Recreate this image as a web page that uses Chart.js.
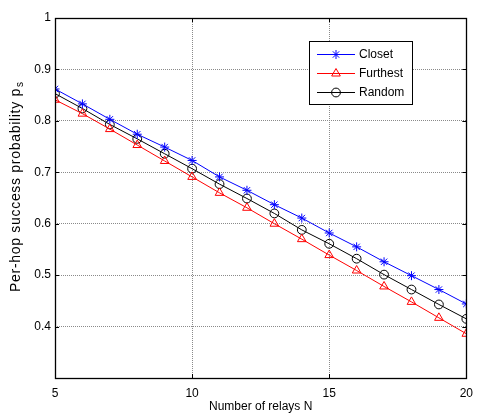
<!DOCTYPE html>
<html>
<head>
<meta charset="utf-8">
<script src="https://cdn.jsdelivr.net/npm/chart.js@4"></script>
<style>
  html, body { margin: 0; padding: 0; background: #fff; }
  #wrap { width: 481px; height: 418px; }
</style>
</head>
<body>
<div id="wrap"><canvas id="successChart"></canvas></div>
<script>
// Number of relays N
const relays = [5, 6, 7, 8, 9, 10, 11, 12, 13, 14, 15, 16, 17, 18, 19, 20];
// Per-hop success probability
const closest = [0.862, 0.833, 0.803, 0.774, 0.749, 0.723, 0.691, 0.665, 0.637, 0.611, 0.582, 0.555, 0.526, 0.499, 0.472, 0.444];
const furthest = [0.841, 0.814, 0.784, 0.753, 0.722, 0.691, 0.660, 0.631, 0.600, 0.570, 0.539, 0.509, 0.478, 0.448, 0.417, 0.386];
const random = [0.853, 0.824, 0.793, 0.765, 0.736, 0.707, 0.677, 0.649, 0.620, 0.588, 0.561, 0.532, 0.501, 0.472, 0.443, 0.415];
const yTicks = [0.3, 0.4, 0.5, 0.6, 0.7, 0.8, 0.9, 1];
const xTicks = [5, 10, 15, 20];

const FONT = 'Arial, "Liberation Sans", sans-serif';
const toPoints = (ys) => relays.map((n, i) => ({ x: n, y: ys[i] }));

// MATLAB-style box, inward ticks, y label with subscript and legend
const matlabFrame = {
    id: 'matlabFrame',
    afterDraw(chart) {
        const { ctx, chartArea: a, scales } = chart;
        ctx.save();
        ctx.strokeStyle = '#000';
        ctx.lineWidth = 1;
        ctx.beginPath();
        yTicks.forEach((v) => {
            const y = Math.round(scales.y.getPixelForValue(v)) + 0.5;
            ctx.moveTo(a.left, y); ctx.lineTo(a.left + 4, y);
            ctx.moveTo(a.right, y); ctx.lineTo(a.right - 4, y);
        });
        xTicks.forEach((v) => {
            const x = Math.round(scales.x.getPixelForValue(v)) + 0.5;
            ctx.moveTo(x, a.bottom); ctx.lineTo(x, a.bottom - 4);
            ctx.moveTo(x, a.top); ctx.lineTo(x, a.top + 4);
        });
        ctx.stroke();
        ctx.lineWidth = 1.3;
        ctx.strokeRect(Math.round(a.left) + 0.5, Math.round(a.top) + 0.5,
            Math.round(a.right - a.left), Math.round(a.bottom - a.top));

        // y axis title, p with subscript s
        ctx.save();
        ctx.translate(20, 292);
        ctx.rotate(-Math.PI / 2);
        ctx.fillStyle = '#000';
        ctx.textAlign = 'left';
        ctx.textBaseline = 'alphabetic';
        ctx.font = '14px ' + FONT;
        ctx.letterSpacing = '0.7px';
        const main = 'Per-hop success probability p';
        ctx.fillText(main, 0, 0);
        const w = ctx.measureText(main).width;
        ctx.font = '10px ' + FONT;
        ctx.fillText('s', w + 1, 3);
        ctx.restore();

        // legend box
        const bx = 309, by = 41, bw = 103, bh = 63;
        ctx.fillStyle = '#fff';
        ctx.fillRect(bx, by, bw, bh);
        ctx.lineWidth = 1;
        ctx.strokeStyle = '#000';
        ctx.strokeRect(bx + 0.5, by + 0.5, bw, bh);
        ctx.font = '12px ' + FONT;
        ctx.textBaseline = 'middle';
        const rows = [54, 73, 92];
        chart.data.datasets.forEach((ds, i) => {
            const y = rows[i] + 0.5;
            ctx.strokeStyle = ds.borderColor;
            ctx.lineWidth = 1;
            ctx.beginPath();
            ctx.moveTo(317, y); ctx.lineTo(355, y);
            ctx.stroke();
            ctx.fillStyle = 'rgba(0,0,0,0)';
            Chart.helpers.drawPoint(ctx, {
                pointStyle: ds.pointStyle, radius: ds.pointRadius, rotation: 0,
                borderWidth: 1
            }, 336, y);
            ctx.fillStyle = '#000';
            ctx.fillText(ds.label, 359, y);
        });
        ctx.restore();
    }
};

new Chart(document.getElementById('successChart').getContext('2d'), {
    type: 'line',
    data: {
        datasets: [
            { label: 'Closet', data: toPoints(closest), borderColor: '#0000ff', backgroundColor: 'transparent',
              pointStyle: 'star', pointRadius: 4.5, pointBorderColor: '#0000ff', borderWidth: 1, pointBorderWidth: 1 },
            { label: 'Furthest', data: toPoints(furthest), borderColor: '#ff0000', backgroundColor: 'transparent',
              pointStyle: 'triangle', pointRadius: 5, pointBorderColor: '#ff0000', borderWidth: 1, pointBorderWidth: 1 },
            { label: 'Random', data: toPoints(random), borderColor: '#000000', backgroundColor: 'transparent',
              pointStyle: 'circle', pointRadius: 4.4, pointBorderColor: '#000000', borderWidth: 1, pointBorderWidth: 1 },
        ],
    },
    options: {
        responsive: true,
        maintainAspectRatio: false,
        animation: false,
        layout: { padding: { left: 0, right: 8, top: 18, bottom: 0 } },
        plugins: { legend: { display: false }, tooltip: { enabled: false } },
        elements: { line: { tension: 0 } },
        scales: {
            x: {
                type: 'linear', min: 5, max: 20,
                afterFit: (s) => { s.height = 40; },
                afterBuildTicks: (s) => { s.ticks = xTicks.map((v) => ({ value: v })); },
                ticks: { color: '#000', font: { family: FONT, size: 12 }, padding: 8, maxRotation: 0 },
                grid: {
                    drawTicks: false,
                    color: (c) => (c.tick.value === 5 || c.tick.value === 20 ? 'transparent' : '#8a8a8a'),
                },
                border: { display: false, dash: [1, 1] },
                title: { display: true, text: 'Number of relays N', color: '#000',
                         font: { family: FONT, size: 12 }, padding: { top: 4 } },
            },
            y: {
                min: 0.3, max: 1,
                afterFit: (s) => { s.width = 55; },
                afterBuildTicks: (s) => { s.ticks = yTicks.map((v) => ({ value: v })); },
                ticks: {
                    color: '#000', font: { family: FONT, size: 12 }, padding: 4,
                    callback: (v) => (Math.abs(v - 0.3) < 1e-6 ? '' : String(Math.round(v * 10) / 10)),
                },
                grid: {
                    drawTicks: false,
                    color: (c) => (Math.abs(c.tick.value - 0.3) < 1e-6 || Math.abs(c.tick.value - 1) < 1e-6 ? 'transparent' : '#8a8a8a'),
                },
                border: { display: false, dash: [1, 1] },
            },
        },
    },
    plugins: [matlabFrame],
});
</script>
</body>
</html>
